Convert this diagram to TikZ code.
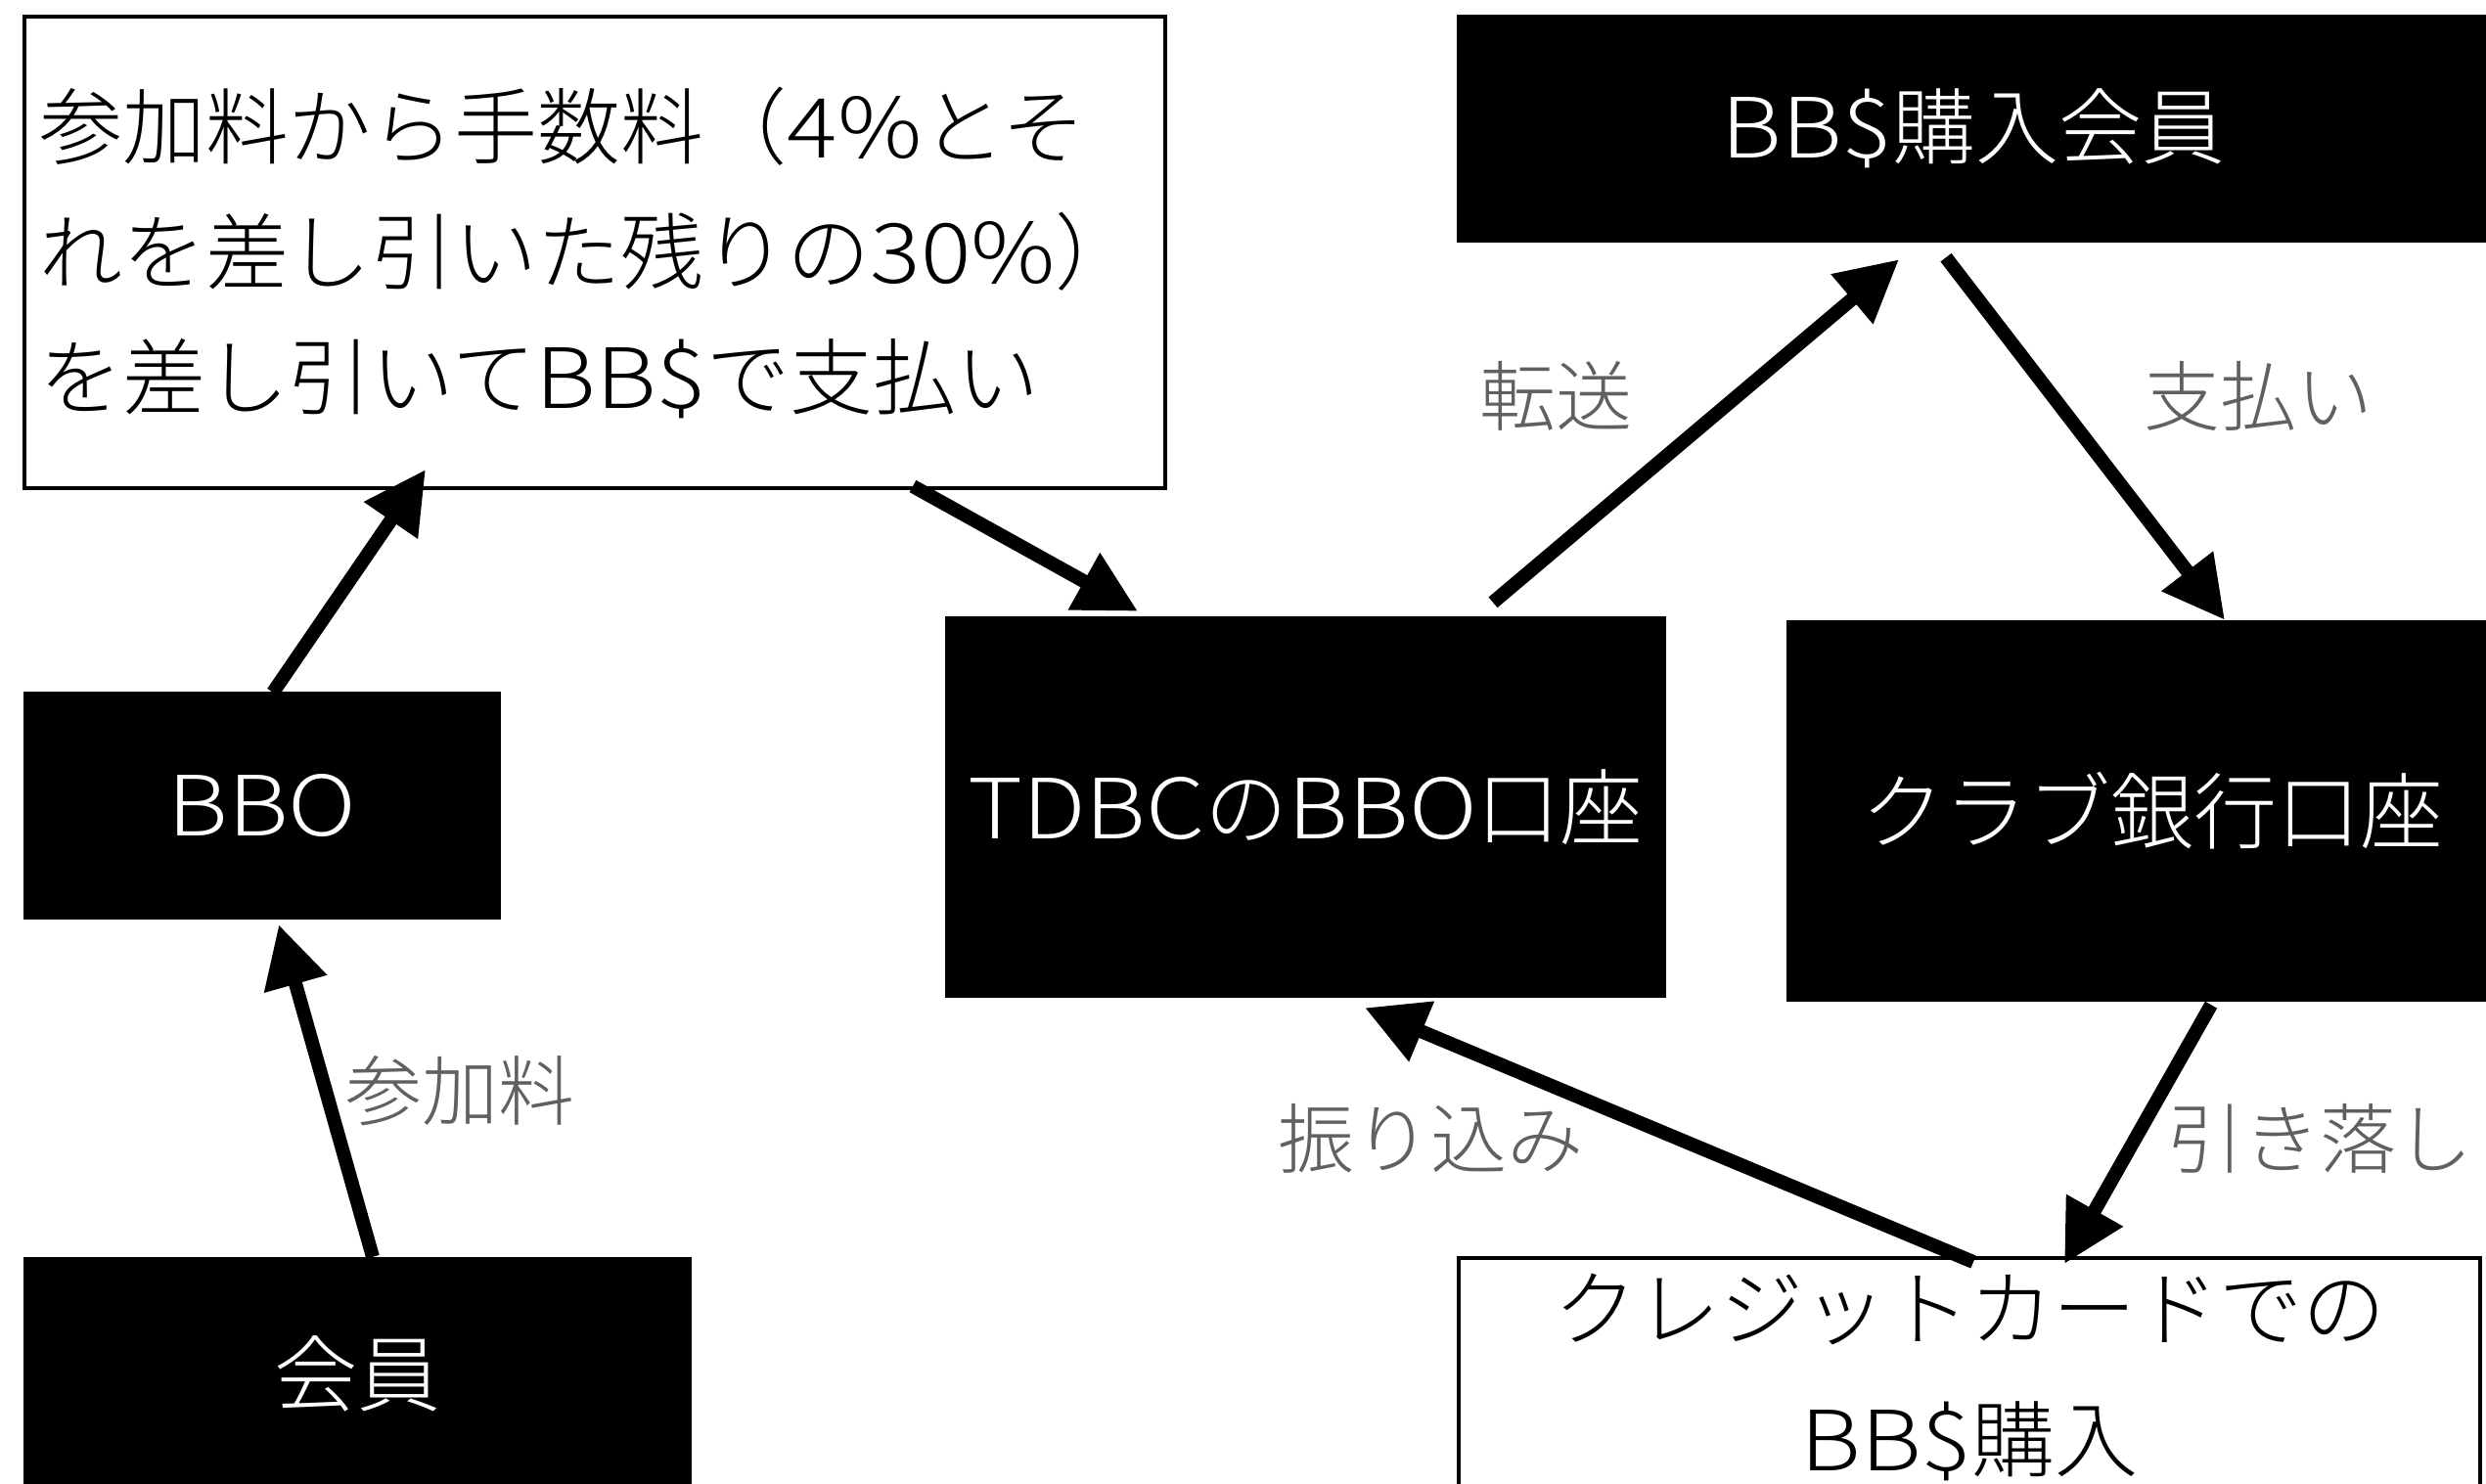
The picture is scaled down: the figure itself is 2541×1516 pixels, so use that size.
\documentclass[tikz,border=0pt]{standalone}
\usepackage{fontspec}
\setmainfont{Noto Sans CJK JP Light}
\newfontfamily\latfont[FakeStretch=1.13]{Noto Sans CJK JP Light}
\newcommand\LatTxt[1]{{\latfont #1}}
\usetikzlibrary{arrows.meta,calc}
\definecolor{lblgray}{RGB}{96,96,96}
\begin{document}
\begin{tikzpicture}[x=1pt,y=-1pt,
  blk/.style={fill=black,draw=none,text=white,inner sep=0pt,font=\fontsize{85}{128}\selectfont},
  wht/.style={fill=white,draw=black,line width=4pt,inner sep=0pt,font=\fontsize{85}{128}\selectfont},
  arr/.style={line width=14pt,-{Triangle[length=63pt,width=63pt]}},
  lbl/.style={text=lblgray,inner sep=0pt,font=\fontsize{78}{90}\selectfont}]
\useasboundingbox[fill=white] (0,0) rectangle (2541,1516);
% nodes
\node[wht,minimum width=1166pt,minimum height=482pt,text width=1136pt,align=left] (note) at (608,258)
  {参加料から手数料（\LatTxt{4\%}とそ\\れを差し引いた残りの\LatTxt{30\%}）\\を差し引いて\LatTxt{BB\$}で支払い};
\node[blk,minimum width=1056pt,minimum height=233pt] (top) at (2017,131.5) {\LatTxt{BB\$}購入会員};
\node[blk,minimum width=488pt,minimum height=233pt] (bbo) at (268,823.5) {\LatTxt{BBO}};
\node[blk,minimum width=737pt,minimum height=390pt] (tdbc) at (1334.5,825) {\LatTxt{TDBC}の\LatTxt{BBO}口座};
\node[blk,minimum width=747pt,minimum height=390pt] (club) at (2199.5,829) {クラブ銀行口座};
\node[blk,minimum width=683pt,minimum height=238pt] (kaiin) at (365.5,1404) {会員};
\node[wht,minimum width=1044pt,minimum height=244pt,align=center,font=\fontsize{85}{134}\selectfont] (credit) at (2013,1408)
  {クレジットカードでの\\\LatTxt{BB\$}購入};
% arrows
\draw[arr] ($(kaiin.north)+(15.5,0)$) -- ($(bbo.south)+(17,5)$);
\draw[arr] ($(bbo.north)+(11,1)$) -- ($(note.south)+(-173,-21)$);
\draw[arr] ($(note.south)+(325,-4)$) -- ($(tdbc.north)+(-171.5,-5)$);
\draw[arr] ($(tdbc.north)+(191.5,-14)$) -- ($(top.south)+(-76,17)$);
\draw[arr] ($(top.south)+(-28,15)$) -- ($(club.north)+(74.5,0)$);
\draw[arr] ($(club.south)+(60.5,3)$) -- ($(credit.north)+(97,8)$);
\draw[arr] ($(credit.north)+(4,6)$) -- ($(tdbc.south)+(60.5,10)$);
% labels
\node[lbl] (l1) at (470,1115) {参加料};
\node[lbl] (l2) at (1590,405) {転送};
\node[lbl] (l3) at (2308,405) {支払い};
\node[lbl] (l4) at (1462,1164) {振り込み};
\node[lbl] (l5) at (2371,1164) {引き落し};
\end{tikzpicture}
\end{document}
